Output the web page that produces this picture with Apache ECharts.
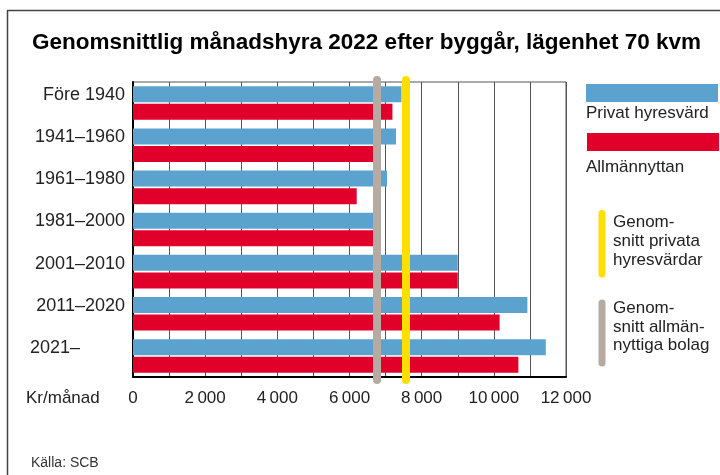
<!DOCTYPE html>
<html>
<head>
<meta charset="utf-8">
<script src="https://cdn.jsdelivr.net/npm/echarts@6/dist/echarts.min.js"></script>
<style>
  html, body { margin: 0; padding: 0; background: #fff; }
  #chart { width: 720px; height: 475px; }
</style>
</head>
<body>
<div id="chart"></div>
<script>
// byggår-kategorier, uppifrån och ner
var categories = ["Före 1940", "1941–1960", "1961–1980", "1981–2000", "2001–2010", "2011–2020", "2021–"];
// kr/månad
var privat = [7440, 7290, 7040, 6700, 9000, 10930, 11440];
var allmannyttan = [7190, 6700, 6200, 6680, 9000, 10160, 10680];
// genomsnitt
var snittPrivat = 7550;
var snittAllman = 6750;

var FONT = '"Liberation Sans", Arial, Helvetica, sans-serif';
var BLUE = "#5ba3ce";
var RED = "#e0002a";
var YELLOW = "#ffdf00";
var GREY = "#b6aba3";
var TXT = "#222";

function fmtKr(v) {
  if (v % 2000 !== 0) return "";
  if (v < 1000) return String(v);
  var s = String(v);
  return s.slice(0, s.length - 3) + "\u2009" + s.slice(-3);
}

var chart = echarts.init(document.getElementById("chart"));

var option = {
  animation: false,
  textStyle: { fontFamily: FONT },
  grid: {
    left: 133, right: 154, top: 82, bottom: 98,
    show: true, borderColor: "#555", borderWidth: 1
  },
  xAxis: {
    type: "value",
    min: 0, max: 12000, interval: 1000,
    axisLine: { show: true, lineStyle: { color: "#000", width: 2 } },
    axisTick: { show: false },
    splitLine: { show: true, lineStyle: { color: "#555", width: 1 } },
    axisLabel: {
      color: TXT, fontSize: 17, fontFamily: FONT, margin: 13,
      formatter: fmtKr, showMaxLabel: true, showMinLabel: true
    }
  },
  yAxis: {
    type: "category",
    inverse: true,
    data: categories,
    axisLine: { show: true, lineStyle: { color: "#000", width: 2 } },
    axisTick: { show: false },
    splitLine: { show: false },
    axisLabel: {
      color: TXT, fontSize: 18, fontFamily: FONT, margin: 8,
      padding: [0, 0, 16, 0],
      formatter: function (v) {
        return v === "2021–" ? "{l|" + v + "}" : v;
      },
      rich: {
        l: { width: 95, align: "left", color: TXT, fontSize: 18, fontFamily: FONT }
      }
    }
  },
  series: [
    {
      name: "Privat hyresvärd",
      type: "bar",
      data: privat,
      barWidth: 16,
      barGap: "10%",
      itemStyle: { color: BLUE },
      z: 2
    },
    {
      name: "Allmännyttan",
      type: "bar",
      data: allmannyttan,
      barWidth: 16,
      barGap: "10%",
      itemStyle: { color: RED },
      z: 2
    },
    {
      name: "snitt",
      type: "line",
      data: [],
      z: 10,
      markLine: {
        silent: true,
        symbol: ["none", "none"],
        label: { show: false },
        data: [
          [
            { xAxis: snittAllman, y: 80, lineStyle: { color: GREY, width: 8, type: "solid", cap: "round" } },
            { xAxis: snittAllman, y: 380 }
          ],
          [
            { xAxis: snittPrivat, y: 80, lineStyle: { color: YELLOW, width: 8, type: "solid", cap: "round" } },
            { xAxis: snittPrivat, y: 380 }
          ]
        ]
      }
    }
  ],
  graphic: [
    // ram
    { type: "line", shape: { x1: 7.5, y1: 10.5, x2: 7.5, y2: 475 }, style: { stroke: "#444", lineWidth: 1.5 } },
    { type: "line", shape: { x1: 7, y1: 10.5, x2: 720, y2: 10.5 }, style: { stroke: "#444", lineWidth: 1.5 } },
    // rubrik
    {
      type: "text", x: 32, y: 43,
      style: {
        text: "Genomsnittlig månadshyra 2022 efter byggår, lägenhet 70 kvm",
        fontSize: 22.5, fontWeight: "bold", fill: "#000", fontFamily: FONT, verticalAlign: "middle"
      }
    },
    {
      type: "text", x: 26, y: 398,
      style: { text: "Kr/månad", fontSize: 17, fill: TXT, fontFamily: FONT, verticalAlign: "middle" }
    },
    {
      type: "text", x: 31, y: 463,
      style: { text: "Källa: SCB", fontSize: 14, fill: "#333", fontFamily: FONT, verticalAlign: "middle" }
    },
    // förklaring
    { type: "rect", shape: { x: 586, y: 84, width: 132, height: 18 }, style: { fill: BLUE } },
    {
      type: "text", x: 586, y: 113,
      style: { text: "Privat hyresvärd", fontSize: 17, fill: TXT, fontFamily: FONT, verticalAlign: "middle" }
    },
    { type: "rect", shape: { x: 587, y: 133, width: 132, height: 18 }, style: { fill: RED } },
    {
      type: "text", x: 586, y: 167,
      style: { text: "Allmännyttan", fontSize: 17, fill: TXT, fontFamily: FONT, verticalAlign: "middle" }
    },
    { type: "line", shape: { x1: 602, y1: 213.5, x2: 602, y2: 274 }, style: { stroke: YELLOW, lineWidth: 7, lineCap: "round" } },
    {
      type: "text", x: 613, y: 213.5,
      style: {
        text: "Genom-\nsnitt privata\nhyresvärdar", fontSize: 17, lineHeight: 18.6,
        fill: TXT, fontFamily: FONT, verticalAlign: "top"
      }
    },
    { type: "line", shape: { x1: 602, y1: 303, x2: 602, y2: 363 }, style: { stroke: GREY, lineWidth: 7, lineCap: "round" } },
    {
      type: "text", x: 613, y: 299,
      style: {
        text: "Genom-\nsnitt allmän-\nnyttiga bolag", fontSize: 17, lineHeight: 18.6,
        fill: TXT, fontFamily: FONT, verticalAlign: "top"
      }
    }
  ]
};

chart.setOption(option);
</script>
</body>
</html>
